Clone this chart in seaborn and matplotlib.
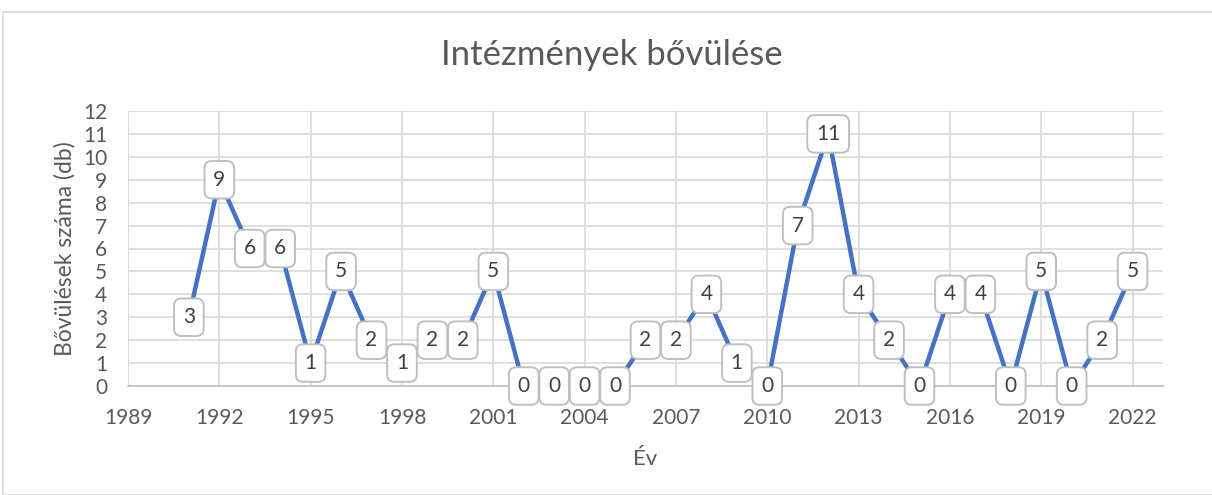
import matplotlib
matplotlib.use("Agg")
import matplotlib.pyplot as plt
import seaborn as sns
import pandas as pd
from matplotlib.patches import Rectangle

years = list(range(1991, 2023))
values = [3, 9, 6, 6, 1, 5, 2, 1, 2, 2, 5, 0, 0, 0, 0, 2, 2, 4, 1, 0,
          7, 11, 4, 2, 0, 4, 4, 0, 5, 0, 2, 5]
xticks = list(range(1989, 2023, 3))
yticks = list(range(0, 13))

title = "Intézmények bővülése"
xlabel = "Év"
ylabel = "Bővülések száma (db)"

sns.set_theme(style="white")
plt.rcParams['font.family'] = ['Lato', 'DejaVu Sans']

df = pd.DataFrame({"year": years, "value": values})

fig = plt.figure(figsize=(12.12, 4.95), dpi=100)
fig.patches.append(Rectangle((3/1212, 0), 1.2, (495-12)/495, transform=fig.transFigure,
                             fill=False, edgecolor="#D9D9D9", linewidth=1.2))
ax = fig.add_axes([128/1212, (495-386)/495, (1163-128)/1212, (386-111)/495])

sns.lineplot(data=df, x="year", y="value", ax=ax, color="#4472C4", linewidth=3.2,
             zorder=3)

ax.set_xlim(1989, 2023)
ax.set_ylim(0, 12)
ax.set_xticks(xticks)
ax.set_yticks(yticks)
ax.grid(True, color="#D9D9D9", linewidth=1.2, zorder=0)
ax.set_axisbelow(True)
for s in ["top", "right", "left"]:
    ax.spines[s].set_visible(False)
ax.spines["bottom"].set_color("#BFBFBF")
ax.spines["bottom"].set_linewidth(1.2)
ax.tick_params(axis="both", labelsize=15, colors="#595959", length=0)
ax.tick_params(axis="x", pad=16)
ax.tick_params(axis="y", pad=15)

ax.set_xlabel(xlabel, fontsize=16, color="#595959", labelpad=15)
ax.set_ylabel(ylabel, fontsize=16.5, color="#595959", labelpad=5)
fig.text(0.505, 0.888, title, ha="center", va="center", fontsize=25,
         color="#595959")

for x, y in zip(years, values):
    ax.annotate(str(y), (x, y), ha="center", va="center", fontsize=15,
                color="#404040", zorder=5,
                bbox=dict(boxstyle="round,pad=0.42,rounding_size=0.35",
                          fc="white", ec="#BFBFBF", lw=1.4))

fig.savefig("out.png", dpi=100, facecolor="white")
